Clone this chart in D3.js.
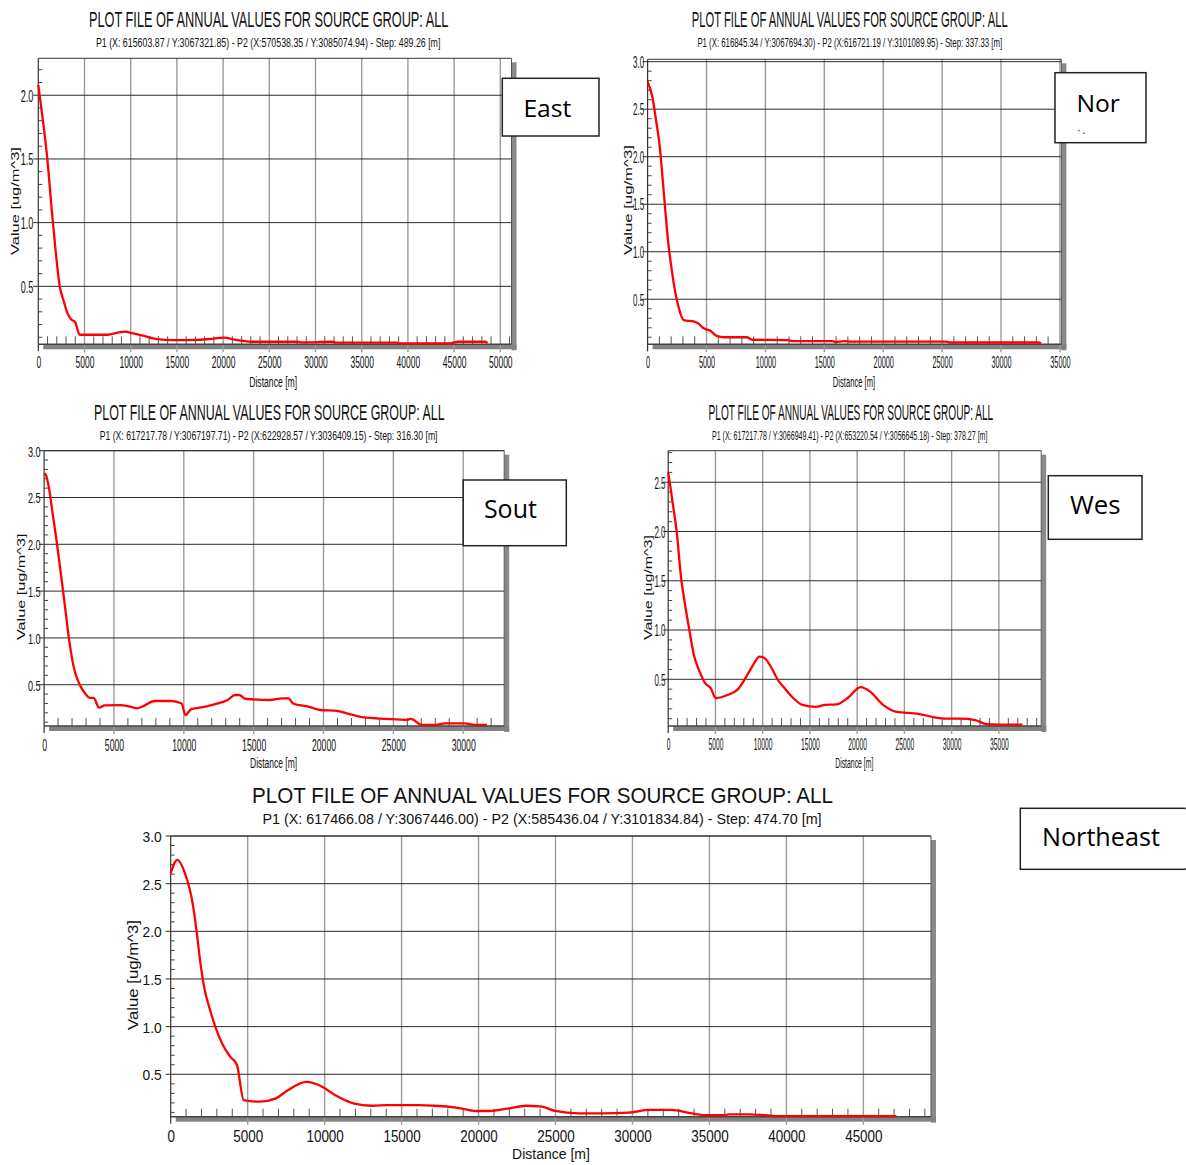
<!DOCTYPE html>
<html>
<head>
<meta charset="utf-8">
<script src="https://cdn.jsdelivr.net/npm/d3@7/dist/d3.min.js"></script>
<style>
  html, body { margin: 0; padding: 0; background: #ffffff; }
  svg { display: block; }
</style>
</head>
<body>
<svg id="chart" width="1186" height="1165"></svg>
<script>
// ---------------- DATA ----------------
const titleText = "PLOT FILE OF ANNUAL VALUES FOR SOURCE GROUP: ALL";
const xAxisTitle = "Distance [m]";
const yAxisTitle = "Value [ug/m^3]";

const eastSubtitle = "P1 (X: 615603.87 / Y:3067321.85) - P2 (X:570538.35 / Y:3085074.94) - Step: 489.26 [m]";
const northSubtitle = "P1 (X: 616845.34 / Y:3067694.30) - P2 (X:616721.19 / Y:3101089.95) - Step: 337.33 [m]";
const southSubtitle = "P1 (X: 617217.78 / Y:3067197.71) - P2 (X:622928.57 / Y:3036409.15) - Step: 316.30 [m]";
const westSubtitle = "P1 (X: 617217.78 / Y:3066949.41) - P2 (X:653220.54 / Y:3056645.18) - Step: 378.27 [m]";
const northeastSubtitle = "P1 (X: 617466.08 / Y:3067446.00) - P2 (X:585436.04 / Y:3101834.84) - Step: 474.70 [m]";

const legendLabels = ["East", "Nor", "Sout", "Wes", "Northeast"];

const eastXTicks = [0, 5000, 10000, 15000, 20000, 25000, 30000, 35000, 40000, 45000, 50000];
const northXTicks = [0, 5000, 10000, 15000, 20000, 25000, 30000, 35000];
const southXTicks = [0, 5000, 10000, 15000, 20000, 25000, 30000];
const westXTicks = [0, 5000, 10000, 15000, 20000, 25000, 30000, 35000];
const northeastXTicks = [0, 5000, 10000, 15000, 20000, 25000, 30000, 35000, 40000, 45000];

const eastYTicks = [0.5, 1.0, 1.5, 2.0];
const northYTicks = [0.5, 1.0, 1.5, 2.0, 2.5, 3.0];
const southYTicks = [0.5, 1.0, 1.5, 2.0, 2.5, 3.0];
const westYTicks = [0.5, 1.0, 1.5, 2.0, 2.5];
const northeastYTicks = [0.5, 1.0, 1.5, 2.0, 2.5, 3.0];

// [distance m, value ug/m^3]
const eastData = [[0,2.08],[450,1.83],[950,1.52],[1490,1.07],[1900,0.76],[2320,0.50],[2730,0.39],[3150,0.29],[3570,0.24],[3980,0.22],[4480,0.12],[5000,0.12],[7500,0.12],[8500,0.135],[9400,0.145],[10000,0.135],[11200,0.115],[12900,0.085],[14500,0.078],[17300,0.08],[19000,0.09],[20000,0.097],[21600,0.078],[23300,0.065],[28000,0.065],[28500,0.06],[31800,0.065],[32200,0.058],[38700,0.058],[39100,0.053],[44500,0.053],[45400,0.065],[48400,0.065],[48600,0.053]];

const northData = [[0,2.79],[400,2.63],[710,2.39],[1030,2.11],[1260,1.79],[1480,1.47],[1730,1.12],[2050,0.81],[2370,0.56],[2690,0.39],[3060,0.28],[3960,0.264],[4250,0.25],[4750,0.195],[5300,0.17],[5870,0.114],[6500,0.10],[8400,0.10],[8890,0.074],[11900,0.07],[12300,0.06],[15700,0.06],[15900,0.05],[16700,0.06],[17300,0.055],[25400,0.055],[25600,0.045],[33200,0.045],[33400,0.035]];

const southData = [[0,2.76],[130,2.74],[350,2.60],[630,2.31],[900,2.03],[1180,1.71],[1450,1.39],[1810,0.96],[2140,0.675],[2550,0.50],[2970,0.40],[3260,0.36],[3550,0.36],[3930,0.255],[4350,0.28],[5440,0.283],[6150,0.265],[6680,0.248],[7000,0.265],[7920,0.326],[9100,0.326],[9840,0.30],[10120,0.176],[10530,0.24],[11550,0.265],[12430,0.30],[13140,0.337],[13670,0.39],[13970,0.39],[14400,0.35],[16170,0.337],[17050,0.355],[17500,0.355],[17820,0.30],[18920,0.265],[19800,0.23],[20960,0.22],[21670,0.195],[22900,0.15],[24500,0.135],[25950,0.125],[26250,0.135],[27040,0.07],[28050,0.07],[28700,0.087],[30100,0.087],[30850,0.07],[31700,0.07]];

const westData = [[0,2.60],[50,2.57],[460,2.30],[930,1.97],[1330,1.56],[1730,1.29],[2200,1.02],[2710,0.75],[3320,0.58],[3910,0.46],[4500,0.41],[5020,0.31],[6280,0.34],[7480,0.41],[8470,0.56],[9070,0.66],[9660,0.73],[10260,0.71],[10850,0.63],[11640,0.49],[12240,0.42],[13230,0.31],[14220,0.24],[15610,0.22],[16600,0.24],[17800,0.245],[18990,0.31],[20370,0.42],[21370,0.375],[22750,0.24],[24150,0.17],[26500,0.15],[28100,0.115],[29300,0.10],[30900,0.10],[32500,0.085],[33700,0.045],[34900,0.04],[37500,0.04]];

const northeastData = [[0,2.61],[430,2.75],[900,2.62],[1450,2.27],[1690,1.99],[1920,1.68],[2190,1.40],[2530,1.19],[2940,0.98],[3380,0.81],[3890,0.68],[4300,0.60],[4740,0.23],[5760,0.213],[6800,0.245],[7630,0.335],[8820,0.42],[9840,0.37],[10700,0.28],[11870,0.195],[13070,0.17],[14100,0.177],[16150,0.177],[17200,0.17],[18550,0.15],[19850,0.115],[20700,0.115],[21900,0.14],[23090,0.17],[24120,0.16],[24970,0.115],[26500,0.09],[28050,0.09],[29750,0.098],[31120,0.126],[32500,0.126],[33860,0.09],[34880,0.07],[35900,0.07],[36250,0.08],[37600,0.08],[38650,0.07],[39500,0.06],[47150,0.06]];

// ---------------- LAYOUT ----------------
const panels = [
  { data: eastData, xTicks: eastXTicks, yTicks: eastYTicks, subtitle: eastSubtitle, legend: legendLabels[0],
    left: 38.3, right: 511.5, top: 58.3, bottom: 344.3, xMax: 51212, yMin: 0.045, yMax: 2.29,
    title: { x1: 89, x2: 448.6, y: 26.7, fs: 22 }, sub: { x1: 95.9, x2: 441, y: 47.3, fs: 13.5 },
    xLab: { fs: 16, sx: 0.53, off: 24 }, yLab: { fs: 16, sx: 0.57, gap: 5 },
    dist: { cx: 273.2, y: 386.7, len: 48, fs: 15 }, val: { x: 19, cy: 201, len: 108, fs: 11 },
    box: { x1: 502.3, x2: 599, y1: 78.3, y2: 136, tx: 523.4, tlen: 48, ty: 116.7, fs: 24 } },
  { data: northData, xTicks: northXTicks, yTicks: northYTicks, subtitle: northSubtitle, legend: legendLabels[1],
    left: 647.6, right: 1061.4, top: 59.3, bottom: 344.3, xMax: 35127, yMin: 0.026, yMax: 3.025,
    title: { x1: 691.8, x2: 1008, y: 26.7, fs: 22 }, sub: { x1: 697.4, x2: 1002.6, y: 47.3, fs: 13.5 },
    xLab: { fs: 16, sx: 0.455, off: 24 }, yLab: { fs: 16, sx: 0.5, gap: 3.4 },
    dist: { cx: 854, y: 386.7, len: 42.3, fs: 15 }, val: { x: 631.5, cy: 200, len: 110, fs: 11 },
    box: { x1: 1055, x2: 1146, y1: 72.7, y2: 142.7, tx: 1076.4, tlen: 43.5, ty: 111.7, fs: 24 }, dots: true },
  { data: southData, xTicks: southXTicks, yTicks: southYTicks, subtitle: southSubtitle, legend: legendLabels[2],
    left: 44.1, right: 504.2, top: 450.7, bottom: 726, xMax: 32935, yMin: 0.059, yMax: 3.0,
    title: { x1: 94, x2: 444.8, y: 420, fs: 22 }, sub: { x1: 99.7, x2: 437.9, y: 440, fs: 13.5 },
    xLab: { fs: 17, sx: 0.51, off: 25 }, yLab: { fs: 15, sx: 0.61, gap: 3.5 },
    dist: { cx: 273.6, y: 767.7, len: 47.2, fs: 15 }, val: { x: 24.5, cy: 586.7, len: 106.7, fs: 11 },
    box: { x1: 463.2, x2: 566.3, y1: 480, y2: 545.7, tx: 483.9, tlen: 53, ty: 518.3, fs: 25 } },
  { data: westData, xTicks: westXTicks, yTicks: westYTicks, subtitle: westSubtitle, legend: legendLabels[3],
    left: 668.2, right: 1041.2, top: 450.7, bottom: 726, xMax: 39480, yMin: 0.026, yMax: 2.82,
    title: { x1: 708.6, x2: 993.3, y: 420, fs: 22 }, sub: { x1: 712, x2: 987.6, y: 440, fs: 13.5 },
    xLab: { fs: 16, sx: 0.42, off: 24 }, yLab: { fs: 16, sx: 0.5, gap: 2.7 },
    dist: { cx: 854.3, y: 767.7, len: 38.2, fs: 15 }, val: { x: 652, cy: 587.5, len: 105, fs: 11 },
    box: { x1: 1048.3, x2: 1142, y1: 475.7, y2: 539.3, tx: 1070, tlen: 50.6, ty: 514, fs: 25 } },
  { data: northeastData, xTicks: northeastXTicks, yTicks: northeastYTicks, subtitle: northeastSubtitle, legend: legendLabels[4],
    left: 170.7, right: 931, top: 836, bottom: 1116.7, xMax: 49395, yMin: 0.055, yMax: 3.0,
    title: { x1: 252, x2: 833.5, y: 803.3, fs: 22 }, sub: { x1: 262.5, x2: 822, y: 824.3, fs: 15 },
    xLab: { fs: 16, sx: 0.84, off: 25 }, yLab: { fs: 15, sx: 0.92, gap: 9 },
    dist: { cx: 551, y: 1159.3, len: 78, fs: 15 }, val: { x: 137.7, cy: 975, len: 110, fs: 15 },
    box: { x1: 1020.3, x2: 1192, y1: 808.3, y2: 869.3, tx: 1042, tlen: 118, ty: 846, fs: 25 } }
];

const FONT = "'Liberation Sans', Arial, sans-serif";
const LEGEND_FONT = "'Open Sans', 'Noto Sans', sans-serif";

const svg = d3.select("#chart");
svg.append("rect").attr("width", 1186).attr("height", 1165).attr("fill", "#ffffff");

// Text fitted to a target width by scaling it horizontally (rotate = -90 for vertical text)
function fittedText(parent, str, x, y, len, fs, family, rotate) {
  const t = parent.append("text")
    .style("font-family", family).style("font-size", fs + "px").attr("fill", "#111")
    .text(str);
  const natural = t.node().getComputedTextLength() || len;
  const s = len / natural;
  if (rotate) {
    t.attr("transform", `translate(${x},${y}) rotate(-90) scale(${s},1)`);
  } else {
    t.attr("transform", `translate(${x},${y}) scale(${s},1)`);
  }
  return t;
}

function drawPanel(p) {
  const g = svg.append("g");
  const x = d3.scaleLinear().domain([0, p.xMax]).range([p.left, p.right]);
  const y = d3.scaleLinear().domain([p.yMin, p.yMax]).range([p.bottom, p.top]);

  // shadows
  g.append("rect").attr("x", p.right).attr("y", p.top + 4).attr("width", 5)
    .attr("height", p.bottom - p.top + 2).attr("fill", "#8a8a8a");
  g.append("rect").attr("x", p.left + 5).attr("y", p.bottom).attr("width", p.right - p.left)
    .attr("height", 5).attr("fill", "#828282");

  // plot background
  g.append("rect").attr("x", p.left).attr("y", p.top).attr("width", p.right - p.left)
    .attr("height", p.bottom - p.top).attr("fill", "#ffffff");

  // vertical gridlines
  g.selectAll(".vgrid").data(p.xTicks.filter(t => t > 0)).join("line")
    .attr("x1", d => x(d)).attr("x2", d => x(d))
    .attr("y1", p.top).attr("y2", p.bottom + 8)
    .attr("stroke", "#9c9c9c").attr("stroke-width", 1.4);

  // horizontal gridlines
  g.selectAll(".hgrid").data(p.yTicks).join("line")
    .attr("x1", p.left - 5).attr("x2", p.right)
    .attr("y1", d => y(d)).attr("y2", d => y(d))
    .attr("stroke", "#2b2b2b").attr("stroke-width", 1);

  // minor x ticks every 1000 m
  const minorX = d3.range(1000, p.xMax, 1000).filter(v => v % 5000 !== 0);
  g.selectAll(".mx").data(minorX).join("line")
    .attr("x1", d => x(d)).attr("x2", d => x(d))
    .attr("y1", p.bottom).attr("y2", p.bottom - 8)
    .attr("stroke", "#555").attr("stroke-width", 1);

  // minor y ticks every 0.1
  const minorY = d3.range(Math.ceil(p.yMin * 10), Math.floor(p.yMax * 10) + 1)
    .filter(v => v % 5 !== 0).map(v => v / 10).filter(v => v > p.yMin && v <= p.yMax);
  g.selectAll(".my").data(minorY).join("line")
    .attr("x1", p.left).attr("x2", p.left + 4)
    .attr("y1", d => y(d)).attr("y2", d => y(d))
    .attr("stroke", "#444").attr("stroke-width", 1);

  // frame
  g.append("line").attr("x1", p.left).attr("x2", p.right).attr("y1", p.top).attr("y2", p.top)
    .attr("stroke", "#333").attr("stroke-width", 1);
  g.append("line").attr("x1", p.right).attr("x2", p.right).attr("y1", p.top).attr("y2", p.bottom)
    .attr("stroke", "#555").attr("stroke-width", 1);
  g.append("line").attr("x1", p.left).attr("x2", p.right).attr("y1", p.bottom).attr("y2", p.bottom)
    .attr("stroke", "#444").attr("stroke-width", 1.5);
  g.append("line").attr("x1", p.left).attr("x2", p.left).attr("y1", p.top).attr("y2", p.bottom + 7)
    .attr("stroke", "#333").attr("stroke-width", 1.2);

  // x axis labels
  const xa = g.append("g").attr("transform", `translate(0,${p.bottom})`)
    .call(d3.axisBottom(x).tickValues(p.xTicks).tickSize(0).tickFormat(d3.format("d")));
  xa.select(".domain").remove();
  xa.selectAll("text")
    .attr("y", p.xLab.off).attr("dy", null)
    .attr("fill", "#111")
    .style("font-family", FONT).style("font-size", p.xLab.fs + "px")
    .attr("transform", `scale(${p.xLab.sx},1)`);

  // y axis labels
  const ya = g.append("g").attr("transform", `translate(${p.left},0)`)
    .call(d3.axisLeft(y).tickValues(p.yTicks).tickSize(0).tickFormat(d3.format(".1f")));
  ya.select(".domain").remove();
  ya.selectAll("text")
    .attr("x", -p.yLab.gap / p.yLab.sx).attr("dy", "0.36em")
    .attr("fill", "#111")
    .style("font-family", FONT).style("font-size", p.yLab.fs + "px")
    .attr("transform", `scale(${p.yLab.sx},1)`);

  // curve
  const line = d3.line().x(d => x(d[0])).y(d => y(d[1])).curve(d3.curveMonotoneX);
  g.append("path").datum(p.data).attr("d", line)
    .attr("fill", "none").attr("stroke", "#ff0000").attr("stroke-width", 2.3)
    .attr("stroke-linejoin", "round");

  // titles
  fittedText(g, titleText, p.title.x1, p.title.y, p.title.x2 - p.title.x1, p.title.fs, FONT);
  fittedText(g, p.subtitle, p.sub.x1, p.sub.y, p.sub.x2 - p.sub.x1, p.sub.fs, FONT);

  // axis titles
  fittedText(g, xAxisTitle, p.dist.cx - p.dist.len / 2, p.dist.y, p.dist.len, p.dist.fs, FONT);
  fittedText(g, yAxisTitle, p.val.x, p.val.cy + p.val.len / 2, p.val.len, p.val.fs, FONT, true);

  // legend box
  const b = p.box;
  g.append("rect").attr("x", b.x1).attr("y", b.y1).attr("width", Math.min(b.x2, 1185) - b.x1).attr("height", b.y2 - b.y1)
    .attr("fill", "#ffffff").attr("stroke", "#222").attr("stroke-width", 1.5);
  if (b.x2 > 1185) {
    // box continues past the picture edge: hide its right side
    g.append("line").attr("x1", 1185).attr("x2", 1185).attr("y1", b.y1 + 1).attr("y2", b.y2 - 1)
      .attr("stroke", "#ffffff").attr("stroke-width", 2);
  }
  fittedText(g, p.legend, b.tx, b.ty, b.tlen, b.fs, LEGEND_FONT).attr("fill", "#000");
  if (p.dots) {
    g.append("text").attr("x", b.tx + 1).attr("y", b.y2 - 9)
      .style("font-family", LEGEND_FONT).style("font-size", "10px").attr("fill", "#000")
      .text("· .");
  }
}

panels.forEach(drawPanel);
</script>
</body>
</html>
